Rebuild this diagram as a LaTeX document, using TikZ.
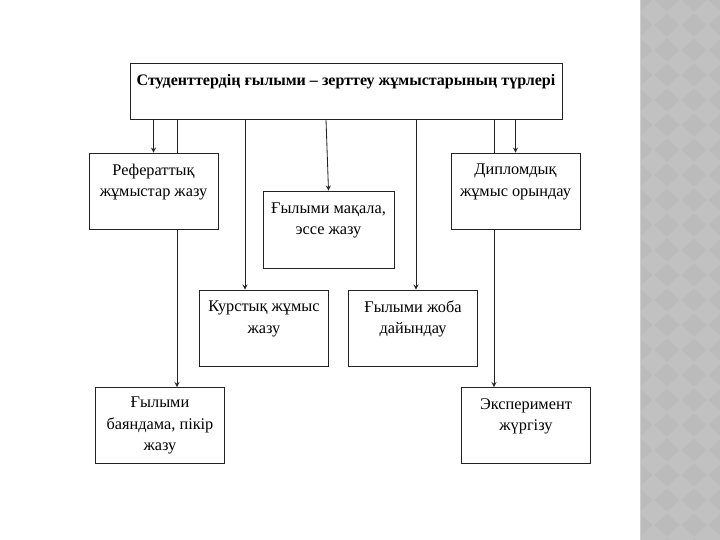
\documentclass[tikz,border=0pt]{standalone}
\usepackage{fontspec}
\setmainfont{Liberation Serif}
\usepackage{tikz}
\usetikzlibrary{arrows}
\definecolor{strip}{RGB}{193,193,193}
\definecolor{stripdark}{RGB}{187,187,187}
\definecolor{stripedge}{RGB}{206,206,206}
\definecolor{edge}{RGB}{35,35,35}
\tikzstyle{heading} = [rectangle, minimum width=10.8cm, minimum height=1.4cm, draw=edge, line width=0.6pt, fill=white, align=center, font=\fontsize{11.4}{15.3}\selectfont\bfseries]
\tikzstyle{kindbox} = [rectangle, minimum width=3.225cm, minimum height=1.9cm, draw=edge, line width=0.6pt, fill=white, align=center, font=\fontsize{11.6}{15.3}\selectfont]
\tikzstyle{arrow} = [line width=0.6pt,->,>=stealth,draw=edge]
\tikzstyle{plain} = [line width=0.6pt,draw=edge]

\begin{document}
\begin{tikzpicture}
\useasboundingbox (0,0) rectangle (18,-13.5);
% grey strip on the right
\fill[strip] (16,0) rectangle (18,-13.5);
\begin{scope}
\clip (16,0) rectangle (18,-13.5);
\foreach \i in {0,...,3}
  \foreach \j in {0,...,22}
  {\fill[stripdark] (16.0+0.675*\i,-0.625*\j) ++(0,0.29) -- ++(0.31,-0.29) -- ++(-0.31,-0.29) -- ++(-0.31,0.29) -- cycle;}
\end{scope}
\draw[stripedge, line width=0.8pt] (16.02,0) -- (16.02,-13.5);

\node (top) [heading] at (8.65,-2.275) {Студенттердің ғылыми – зерттеу жұмыстарының түрлері\\\mbox{}};
\node (ref) [kindbox, below of=top, xshift=-4.8125cm, yshift=-1.5cm] {Рефераттық\\жұмыстар жазу\\\mbox{}};
\node (dip) [kindbox, below of=top, xshift=4.2375cm, yshift=-1.5cm] {Дипломдық\\жұмыс орындау\\\mbox{}};
\node (maq) [kindbox, minimum width=3.275cm, minimum height=1.925cm, below of=top, xshift=-0.4375cm, yshift=-2.4625cm] {Ғылыми мақала,\\эссе жазу\\\mbox{}};
\node (kurs) [kindbox, below of=top, xshift=-2.05cm, yshift=-4.925cm] {Курстық жұмыс\\жазу\\\mbox{}};
\node (joba) [kindbox, below of=top, xshift=1.675cm, yshift=-4.925cm] {Ғылыми жоба\\дайындау\\\mbox{}};
\node (bay) [kindbox, below of=top, xshift=-4.65cm, yshift=-7.3625cm] {Ғылыми\\баяндама, пікір\\жазу};
\node (eks) [kindbox, below of=top, xshift=4.5cm, yshift=-7.3625cm] {Эксперимент\\жүргізу\\\mbox{}};

\draw[arrow] (top.south -| ref.north) -- (ref.north);
\draw[plain] ([xshift=0.425cm]bay.north |- top.south) -- ([xshift=0.425cm]bay.north |- ref.north);
\draw[arrow] ([xshift=0.425cm]bay.north |- ref.south) -- ([xshift=0.425cm]bay.north);
\draw[arrow] ([xshift=-0.475cm]kurs.north |- top.south) -- ([xshift=-0.475cm]kurs.north);
\draw[arrow] ([xshift=-0.0625cm]maq.north |- top.south) -- (maq.north);
\draw[arrow] ([xshift=0.075cm]joba.north |- top.south) -- ([xshift=0.075cm]joba.north);
\draw[plain] ([xshift=-0.8cm]eks.north |- top.south) -- ([xshift=-0.8cm]eks.north |- dip.north);
\draw[arrow] ([xshift=-0.8cm]eks.north |- dip.south) -- ([xshift=-0.8cm]eks.north);
\draw[arrow] (top.south -| dip.north) -- (dip.north);
\end{tikzpicture}
\end{document}
